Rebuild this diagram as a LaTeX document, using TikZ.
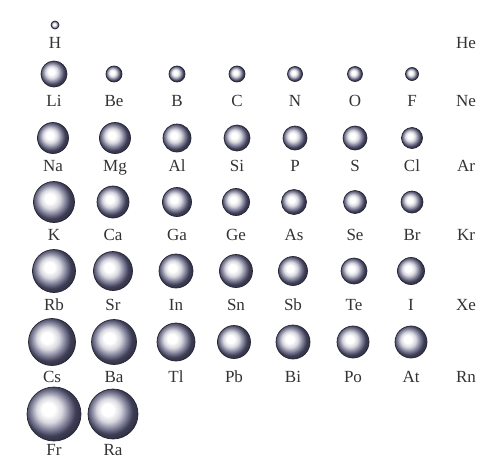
\documentclass[tikz,border=0pt]{standalone}
\usepackage{fontspec}
\setmainfont{Liberation Serif}
\begin{document}
% sphere shading: bright spot left of centre, dark slate rim
\pgfdeclareradialshading{atomball}{\pgfqpoint{-6bp}{5bp}}{%
  color(0bp)=(white); color(6bp)=(white);
  color(12bp)=(rgb,1:red,0.84;green,0.84;blue,0.87);
  color(18bp)=(rgb,1:red,0.5;green,0.5;blue,0.6);
  color(23bp)=(rgb,1:red,0.24;green,0.24;blue,0.33);
  color(30bp)=(rgb,1:red,0.16;green,0.16;blue,0.24);
  color(50bp)=(rgb,1:red,0.14;green,0.14;blue,0.2)}
\definecolor{rim}{rgb}{0.14,0.14,0.2}
\definecolor{ink}{rgb}{0.2,0.2,0.2}
\begin{tikzpicture}[x=1pt,y=-1pt,
  atom/.style={circle,inner sep=0pt,shading=atomball,draw=rim,line width=0.7pt},
  lbl/.style={inner sep=0pt,text=ink,text height=11.5pt,text depth=0pt,
    font=\fontsize{17}{17}\selectfont}]
\fill[white] (0,0) rectangle (494,461);
\useasboundingbox (0,0) rectangle (494,461);
% element spheres: name / x / y / radius / label y
\foreach \n/\x/\y/\r/\ly in {
  H/55/25/4/43,
  Li/54/74/13/101, Be/114/74/8/101, B/177/74/8/101, C/237/74/8/101,
  N/295/74/7.5/101, O/355/74/7.5/101, F/412/74/6.5/101,
  Na/53/138/15.5/166, Mg/115/138/15.5/166, Al/177/138/14/166, Si/237/138/13/166,
  P/295/138/12/166, S/355/138/12/166, Cl/412/138/10.5/166,
  K/54/202/20.5/235, Ca/113/202/16/235, Ga/177/202/14.5/235, Ge/236/202/13.5/235,
  As/294/202/12.5/235, Se/355/202/11.5/235, Br/412/202/11/235,
  Rb/54/271/21.5/305, Sr/113/271/19.5/305, In/176/271/17/305, Sn/236/271/16.5/305,
  Sb/293/271/14.5/305, Te/354/271/13/305, I/411/271/13.5/305,
  Cs/52/342/23.5/377, Ba/114/342/22.5/377, Tl/176/342/19/377, Pb/234/342/16.5/377,
  Bi/293/342/17/377, Po/353/342/16/377, At/411/342/16/377,
  Fr/54/414/27/450, Ra/113/414/25/450}
{
  \node[atom,minimum size={2*\r pt}] (\n) at (\x,\y) {};
  \node[lbl] (\n-label) at (\x,\ly) {\n};
}
% noble gases: symbol only
\foreach \n/\ly in {He/43, Ne/101, Ar/166, Kr/235, Xe/305, Rn/377}
{
  \node[lbl] (\n-label) at (466,\ly) {\n};
}
\end{tikzpicture}
\end{document}
